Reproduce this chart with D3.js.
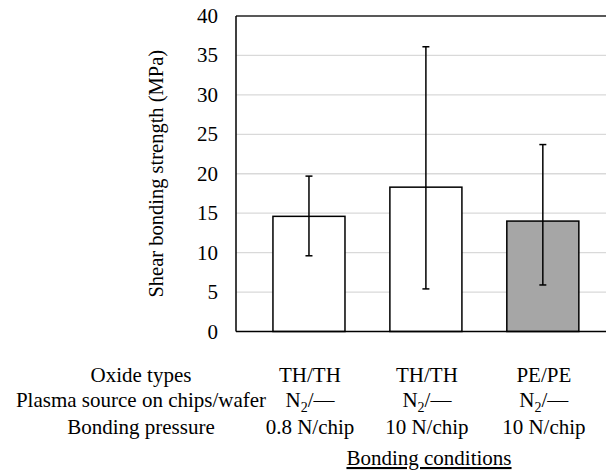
<!DOCTYPE html>
<html><head><meta charset="utf-8">
<script src="https://cdn.jsdelivr.net/npm/d3@7"></script>
<style>
html,body{margin:0;padding:0;background:#fff;}
svg{display:block;}
svg text, svg tspan{font-family:"Times New Roman", "Liberation Serif", Tinos, serif !important;}
</style>
</head>
<body><svg id="chart" width="606" height="471"></svg>
<script>
// ---- data ----
const categories = ["A", "B", "C"];
const oxideTypes = ["TH/TH", "TH/TH", "PE/PE"];
const plasmaGas = ["N", "N", "N"];
const pressures = ["0.8 N/chip", "10 N/chip", "10 N/chip"];
const means = [14.6, 18.3, 14.0];
const errUpper = [19.7, 36.1, 23.7];
const errLower = [9.6, 5.4, 5.9];
const barFills = ["#ffffff", "#ffffff", "#a6a6a6"];
const yTicks = [0, 5, 10, 15, 20, 25, 30, 35, 40];
const rowLabels = ["Oxide types", "Plasma source on chips/wafer", "Bonding pressure"];
const yTitle = "Shear bonding strength (MPa)";
const xTitle = "Bonding conditions";

// ---- layout ----
const svg = d3.select("#chart");
const plotL = 236, plotR = 606, plotT = 16, plotB = 331.5;
const y = d3.scaleLinear().domain([0, 40]).range([plotB, plotT]);
const x = d3.scaleBand().domain(categories).range([250.5, 601.3]).paddingInner(0.384).paddingOuter(0.192);

// gridlines
svg.append("g").selectAll("line").data(yTicks.filter(d => d > 0 && d < 40)).join("line")
  .attr("x1", plotL).attr("x2", plotR)
  .attr("y1", d => y(d)).attr("y2", d => y(d))
  .attr("stroke", "#d9d9d9").attr("stroke-width", 1.3);

// top frame line
svg.append("line").attr("x1", plotL).attr("x2", plotR).attr("y1", y(40)).attr("y2", y(40))
  .attr("stroke", "#222").attr("stroke-width", 1.5);

// bars
svg.append("g").selectAll("rect").data(categories).join("rect")
  .attr("x", d => x(d)).attr("width", x.bandwidth())
  .attr("y", (d, i) => y(means[i])).attr("height", (d, i) => y(0) - y(means[i]))
  .attr("fill", (d, i) => barFills[i]).attr("stroke", "#000").attr("stroke-width", 1.5);

// error bars
const eb = svg.append("g").attr("stroke", "#000").attr("stroke-width", 1.5);
categories.forEach((c, i) => {
  const cx = x(c) + x.bandwidth() / 2;
  eb.append("line").attr("x1", cx).attr("x2", cx).attr("y1", y(errUpper[i])).attr("y2", y(errLower[i]));
  [errUpper[i], errLower[i]].forEach(v => {
    eb.append("line").attr("x1", cx - 3.5).attr("x2", cx + 3.5).attr("y1", y(v)).attr("y2", y(v));
  });
});

// axes lines
svg.append("line").attr("x1", plotL).attr("x2", plotL).attr("y1", plotT).attr("y2", plotB)
  .attr("stroke", "#000").attr("stroke-width", 1.5);
svg.append("line").attr("x1", plotL).attr("x2", plotR).attr("y1", plotB).attr("y2", plotB)
  .attr("stroke", "#000").attr("stroke-width", 1.5);

function addText(parent) {
  return parent.append("text").attr("font-family", "Times New Roman").attr("fill", "#000");
}

// y tick labels
yTicks.forEach(d => {
  addText(svg).attr("x", 218).attr("y", y(d) + 7)
    .attr("text-anchor", "end").attr("font-size", 21).text(d);
});

// y title
addText(svg)
  .attr("transform", "translate(163," + ((plotT + plotB) / 2) + ") rotate(-90)")
  .attr("text-anchor", "middle").attr("font-size", 20.5)
  .text(yTitle);

// bottom table
const rowY = [382, 407, 434];
const labX = 141;
rowLabels.forEach((t, r) => {
  addText(svg).attr("x", labX).attr("y", rowY[r]).attr("text-anchor", "middle")
    .attr("font-size", 21).text(t);
});
categories.forEach((c, i) => {
  const cx = x(c) + x.bandwidth() / 2 + 1;
  addText(svg).attr("x", cx).attr("y", rowY[0]).attr("text-anchor", "middle")
    .attr("font-size", 21).text(oxideTypes[i]);
  const t = addText(svg).attr("x", cx).attr("y", rowY[1]).attr("text-anchor", "middle")
    .attr("font-size", 21);
  t.append("tspan").text(plasmaGas[i]);
  t.append("tspan").attr("dy", 5).attr("font-size", 14).text("2");
  t.append("tspan").attr("dy", -5).text("/\u2014");
  addText(svg).attr("x", cx).attr("y", rowY[2]).attr("text-anchor", "middle")
    .attr("font-size", 21).text(pressures[i]);
});

// x title
addText(svg).attr("x", 429).attr("y", 465).attr("text-anchor", "middle")
  .attr("font-size", 21).attr("text-decoration", "underline").text(xTitle);
</script></body></html>
